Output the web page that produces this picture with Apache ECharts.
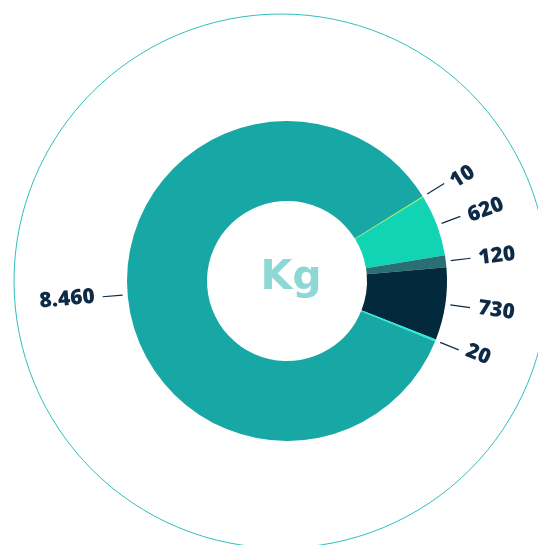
<!DOCTYPE html>
<html>
<head>
<meta charset="utf-8">
<script src="https://cdn.jsdelivr.net/npm/echarts@6/dist/echarts.min.js"></script>
<style>
  html, body { margin: 0; padding: 0; background: #fff; }
  #chart { width: 538px; height: 545px; }
</style>
</head>
<body>
<div id="chart"></div>
<script>
// slices, clockwise from the top-right
const names = ['a', 'b', 'c', 'd', 'e', 'f'];
const values = [10, 620, 120, 730, 20, 8460];
const colors = ['#d4f200', '#10d4b4', '#2b6f76', '#03293d', '#19f2d6', '#17a8a5'];
const unit = 'Kg';

// 8460 -> "8.460"
function fmt(v) {
    return String(v).replace(/\B(?=(\d{3})+(?!\d))/g, '.');
}

const chart = echarts.init(document.getElementById('chart'));

const donutData = values.map((v, i) => ({ name: names[i], value: v, itemStyle: { color: colors[i] } }));
const labelData = values.map((v, i) => ({ name: names[i], value: v }));

const option = {
    animation: false,
    title: {
        text: unit,
        left: 286,
        top: 253,
        textAlign: 'center',
        textStyle: { fontFamily: 'DejaVu Sans', fontWeight: 'bold', fontSize: 41, color: '#8dd8d4' }
    },
    series: [
        {
            // thin outer ring
            type: 'pie',
            silent: true,
            center: [281, 281],
            radius: [0, 267],
            label: { show: false },
            labelLine: { show: false },
            itemStyle: { color: 'rgba(0,0,0,0)', borderColor: '#2fbfbb', borderWidth: 1 },
            data: [{ value: 1 }]
        },
        {
            type: 'pie',
            silent: true,
            center: [287, 281],
            radius: [80, 160],
            startAngle: 32,
            clockwise: true,
            label: { show: false },
            labelLine: { show: false },
            data: donutData
        },
        {
            // labels only, a bit outside the donut so the lines keep a gap
            type: 'pie',
            silent: true,
            center: [287, 281],
            radius: [80, 165],
            startAngle: 32,
            clockwise: true,
            avoidLabelOverlap: false,
            itemStyle: { color: 'rgba(0,0,0,0)' },
            label: {
                show: true,
                rotate: true,
                formatter: p => fmt(p.value),
                fontFamily: 'Open Sans',
                fontWeight: 800,
                fontSize: 21,
                color: '#0f2a47',
                distanceToLabelLine: 8
            },
            labelLine: {
                show: true,
                length: 20,
                length2: 0,
                lineStyle: { color: '#0f2a47', width: 1.2 }
            },
            data: labelData
        }
    ]
};

chart.setOption(option);
</script>
</body>
</html>
